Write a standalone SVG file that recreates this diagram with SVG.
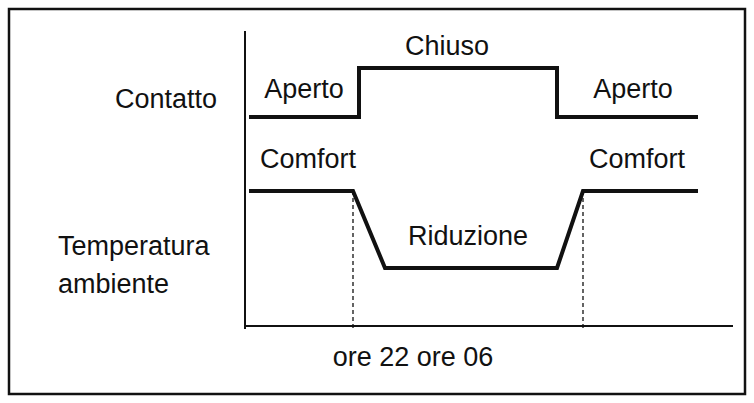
<svg xmlns="http://www.w3.org/2000/svg" width="754" height="403" viewBox="0 0 754 403">
<style>
text{font-family:"Liberation Sans",Arial,sans-serif;font-size:27px;fill:#111}
.s{fill:none;stroke:#111;stroke-width:4;stroke-linejoin:miter}
.a{stroke:#111;stroke-width:2}
.d{stroke:#111;stroke-width:1.3;stroke-dasharray:4 3}
</style>
<rect x="0" y="0" width="754" height="403" fill="#fff"/>
<rect x="9" y="9" width="736" height="385" fill="none" stroke="#111" stroke-width="2.5"/>
<g id="axes">
<line class="a" x1="245" y1="31" x2="245" y2="329"/>
<line class="a" x1="244" y1="326" x2="733" y2="326"/>
</g>
<g id="contatto">
<polyline class="s" points="249,117 359,117 359,68 557,68 557,117 698,117"/>
</g>
<g id="temperatura">
<polyline class="s" points="249,191 353,191 385,268 557,268 583,191 698,191"/>
<line class="d" x1="353" y1="191" x2="353" y2="328"/>
<line class="d" x1="583" y1="191" x2="583" y2="328"/>
</g>
<g id="labels">
<text x="447" y="55" text-anchor="middle">Chiuso</text>
<text x="304" y="98" text-anchor="middle">Aperto</text>
<text x="633" y="98" text-anchor="middle">Aperto</text>
<text x="166" y="108" text-anchor="middle">Contatto</text>
<text x="308" y="168" text-anchor="middle">Comfort</text>
<text x="637" y="168" text-anchor="middle">Comfort</text>
<text x="468" y="245" text-anchor="middle">Riduzione</text>
<text x="58" y="255">Temperatura</text>
<text x="58" y="293">ambiente</text>
<text x="413" y="366" text-anchor="middle">ore 22 ore 06</text>
</g>
</svg>
